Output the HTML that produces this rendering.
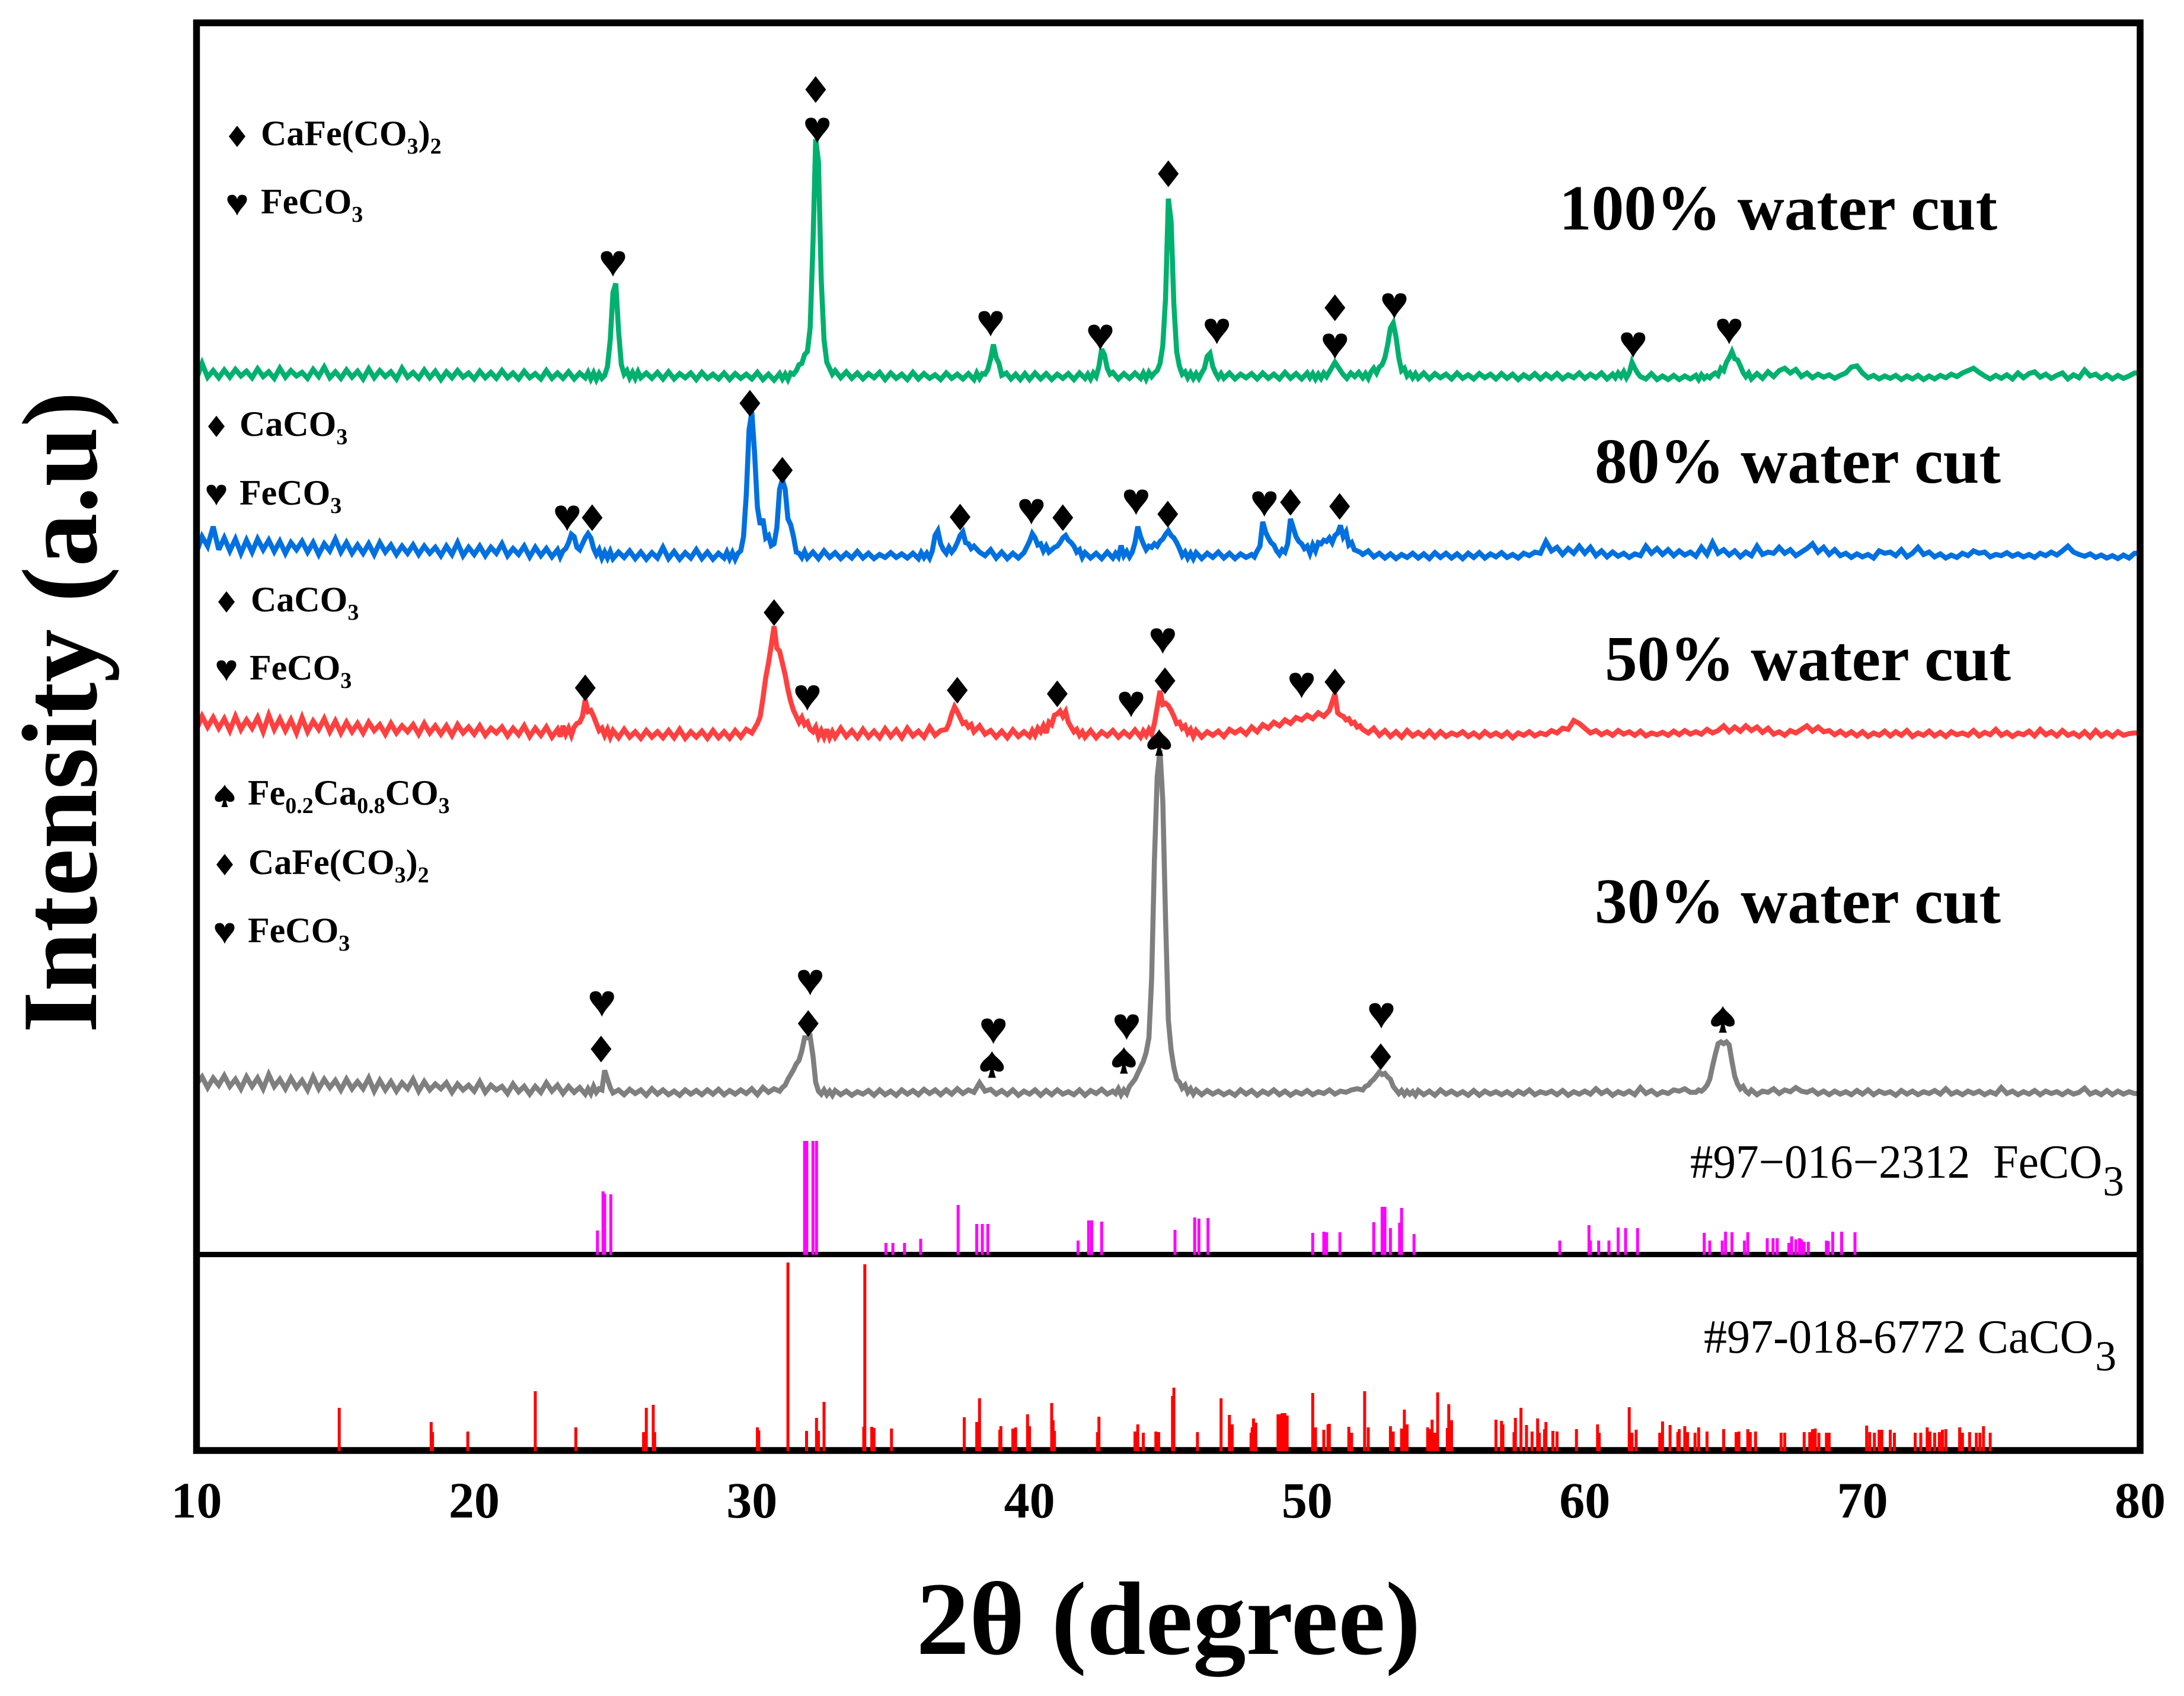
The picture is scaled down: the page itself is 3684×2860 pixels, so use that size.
<!DOCTYPE html>
<html lang="en">
<head>
<meta charset="utf-8">
<title>XRD patterns at different water cut</title>
<style>
html,body{margin:0;padding:0;background:#fff}
svg{display:block}
text{font-family:"Liberation Serif",serif;fill:#000}
</style>
</head>
<body>
<svg id="chart" xmlns="http://www.w3.org/2000/svg" width="3684" height="2860" viewBox="0 0 3684 2860">
<defs>
<path id="m-diamond" d="M0,-1 L1,0 L0,1 L-1,0Z"/>
<path id="m-heart" d="M0,1 C-.3,.3 -1,-.1 -1,-.55 C-1,-.9 -.75,-1 -.5,-1 C-.25,-1 -.05,-.85 0,-.55 C.05,-.85 .25,-1 .5,-1 C.75,-1 1,-.9 1,-.55 C1,-.1 .3,.3 0,1Z"/>
<path id="m-spade" d="M0,-1 C.2,-.55 1,-.25 1,.22 C1,.55 .55,.65 .15,.4 C.2,.7 .3,.95 .35,1 L-.35,1 C-.3,.95 -.2,.7 -.15,.4 C-.55,.65 -1,.55 -1,.22 C-1,-.25 -.2,-.55 0,-1Z"/>
</defs>
<rect width="3684" height="2860" fill="#fff"/>
<g id="series-layer"></g>
<rect x="331.5" y="38.5" width="3278.5" height="2407.5" fill="none" stroke="#000" stroke-width="11.5"/>
<rect x="326" y="2111" width="3289" height="9" fill="#000"/>
<g id="stick-layer"></g>
<g id="marker-layer"></g>
<g id="tick-layer"></g>

<text x="1971" y="2789" text-anchor="middle" font-size="176" font-weight="bold" textLength="851" lengthAdjust="spacingAndGlyphs">2θ (degree)</text>
<text transform="translate(162,1742) rotate(-90)" font-size="181" font-weight="bold" textLength="1082" lengthAdjust="spacingAndGlyphs">Intensity (a.u)</text>

<text x="2630" y="387" font-size="108" font-weight="bold" textLength="739" lengthAdjust="spacingAndGlyphs">100% water cut</text>
<text x="2690" y="814" font-size="108" font-weight="bold" textLength="685" lengthAdjust="spacingAndGlyphs">80% water cut</text>
<text x="2707" y="1147" font-size="108" font-weight="bold" textLength="685" lengthAdjust="spacingAndGlyphs">50% water cut</text>
<text x="2690" y="1556" font-size="108" font-weight="bold" textLength="685" lengthAdjust="spacingAndGlyphs">30% water cut</text>

<text x="2851" y="1986" font-size="80" xml:space="preserve" textLength="695" lengthAdjust="spacingAndGlyphs">#97−016−2312  FeCO</text>
<text x="3547" y="2016" font-size="72">3</text>
<text x="2874" y="2281" font-size="80" textLength="657" lengthAdjust="spacingAndGlyphs">#97-018-6772 CaCO</text>
<text x="3534" y="2311" font-size="72">3</text>

<g>
<use href="#m-diamond" transform="translate(400,230) scale(14,18)"/>
<text x="440" y="245" font-size="60" font-weight="bold">CaFe(CO<tspan font-size="38" dy="14">3</tspan><tspan dy="-14">)</tspan><tspan font-size="38" dy="14">2</tspan></text>
<use href="#m-heart" transform="translate(400,346) scale(16.5,17.5)"/>
<text x="440" y="360" font-size="60" font-weight="bold">FeCO<tspan font-size="38" dy="14">3</tspan></text>
</g>
<g>
<use href="#m-diamond" transform="translate(365,719) scale(14,18)"/>
<text x="404" y="735" font-size="60" font-weight="bold">CaCO<tspan font-size="38" dy="14">3</tspan></text>
<use href="#m-heart" transform="translate(365,835) scale(16.5,17.5)"/>
<text x="404" y="851" font-size="60" font-weight="bold">FeCO<tspan font-size="38" dy="14">3</tspan></text>
</g>
<g>
<use href="#m-diamond" transform="translate(382,1015) scale(14,18)"/>
<text x="423" y="1031" font-size="60" font-weight="bold">CaCO<tspan font-size="38" dy="14">3</tspan></text>
<use href="#m-heart" transform="translate(382,1131) scale(16.5,17.5)"/>
<text x="421" y="1146" font-size="60" font-weight="bold">FeCO<tspan font-size="38" dy="14">3</tspan></text>
</g>
<g>
<use href="#m-spade" transform="translate(379,1342) scale(16.5,19)"/>
<text x="418" y="1357" font-size="60" font-weight="bold">Fe<tspan font-size="38" dy="14">0.2</tspan><tspan dy="-14">Ca</tspan><tspan font-size="38" dy="14">0.8</tspan><tspan dy="-14">CO</tspan><tspan font-size="38" dy="14">3</tspan></text>
<use href="#m-diamond" transform="translate(379,1458) scale(14,18)"/>
<text x="419" y="1474" font-size="60" font-weight="bold">CaFe(CO<tspan font-size="38" dy="14">3</tspan><tspan dy="-14">)</tspan><tspan font-size="38" dy="14">2</tspan></text>
<use href="#m-heart" transform="translate(379,1574) scale(16.5,17.5)"/>
<text x="418" y="1589" font-size="60" font-weight="bold">FeCO<tspan font-size="38" dy="14">3</tspan></text>
</g>
</svg>

<script>
// Tick labels (2-theta, degrees)
const xTicks = [10,20,30,40,50,60,70,80];

// Each row below covers one degree, starting at 10 degrees; values are intensity (a.u.) above the pattern's baseline.
const counts100 = [
[4,30,7,18,6],[19,7,20,9,17],[6,21,8,16,5],[22,7,18,9,15],[5,20,8,24,6],
[16,5,19,7,17],[4,21,6,18,8],[16,4,22,7,15],[5,19,6,17,3],[16,6,18,7,14],
[4,17,6,15,5],[18,6,14,4,17],[6,13,4,18,5],[14,5,16,4,14],[6,15,4,14,3,13,5,10,25,70],
[150,165,85,28,12,18,6,15,5,16],[6,14,5,15,4],[16,4,13,6,14],[3,15,5,12,4],[14,3,13,5,12],
[4,15,3,12,2],[13,4,12,3,14,12,18,28,30,45],[50,90,230,408,370,170,70,32,22,12],[18,6,16,5,14],[4,13,6,15,3],
[14,5,12,3,15],[4,13,5,11,3],[14,5,12,4,13],[3,14,5,13,12,20,38,62,40,30],[10,14,4,12,3,13],
[3,14,4,13,3],[12,5,13,3,14],[5,12,4,14,8,25,54,45,22,12],[15,4,13,5,14],[5,14,4,15,8,14,18,30,60,140],
[308,270,130,50,25,12,16,6,14,5],[13,5,14,22,42,47,25,14,6,13],[5,14,4,12,6],[13,4,14,5,12],[4,15,5,13,4],
[14,6,13,4,12,5,14,8,16,24],[32,22,12,5,14,8,15],[6,13,5,16,22,14,24,28,40,62],[90,98,75,40,18,22,9,14,6,13],[5,14,4,13,6],
[12,4,14,5,11],[4,13,6,12,4],[13,5,12,3,11],[5,13,4,12,5],[13,4,11,6,14],
[5,12,6,14,4],[12,6,14,8,16,6,14,32,22,14],[8,4,13,3,9],[3,10,3,9,4],[10,3,11,5,9,6,11,14,10,22],
[18,32,40,50,38,36,26,15,8,14],[4,13,5,16,8],[18,22,14,20,8],[14,6,12,7,11],[5,10,14,24,26],
[14,6,10,4,9],[5,10,3,9,4],[10,3,9,4,10],[6,12,8,14,18],[22,15,9,4,10],
[5,11,4,14,6],[13,16,7,12,5],[10,14,4,11,6],[19,9,12,5,11],[4,10,5,9,14]
];
const counts80 = [
[14,40,24,57,18],[38,16,36,12,34],[14,36,18,34,15],[32,12,30,18,32],[14,30,10,28,16],
[36,14,30,12,26],[12,28,10,30,14],[26,10,24,12,26],[10,24,12,22,8],[24,10,30,8,22],
[10,24,8,22,12],[28,8,20,10,24],[6,22,8,20,6],[18,6,16,20,30,44,40,22,18,28],[38,45,38,20,10,18,4,14,4,15],
[3,14,5,16,3],[14,2,13,4,22],[3,15,2,13,4],[18,3,14,2,12],[4,14,3,13,2,12,16,40,110,220],
[250,180,90,60,70,38,42,25,28,55],[120,136,120,70,60,40,14,12,5,15],[4,14,3,16,5],[13,3,12,4,15],[4,12,3,10,5],
[13,5,11,4,12],[3,13,5,12,4,16,42,50,28,18],[12,22,14,20,30,42,48,30,28,20],[24,14,8,18,4],[14,3,12,4,13],
[32,45,38,26,28,16,24,14,18,22],[24,30,38,42,34,30,24,14,18,5],[13,4,12,3,14],[4,12,6,25,8,15,6,14,30,57],[40,28,18,24,22,28,24,32,36,44],
[50,42,38,30,20,8,14,4,12,3],[13,3,12,5,14],[4,12,3,11,5],[10,6,16,24,65,48,38,30,26,16],[10,18,14,28,70,55,40,32,28,20],
[24,12,26,16,30,28,34,32,38,30],[42,46,59,40,48,26,30,18,16,14],[10,16,6,12,4],[11,3,10,5,12],[4,11,3,13,5],
[12,4,11,3,12],[5,13,4,11,6],[13,5,10,4,12],[8,14,12,32,16],[22,10,20,12,24],
[12,22,8,16,6],[14,7,12,5,11],[8,24,12,20,10],[18,8,16,9,14],[7,22,10,30,12],
[18,9,16,6,14],[8,24,10,14,12],[22,12,18,8,14],[20,28,14,22,10],[18,8,12,5,11],
[6,10,4,16,12],[14,8,18,6,12],[22,10,14,6,11],[4,9,5,12,8],[16,12,14,6,10],
[8,13,7,11,6],[10,5,12,8,14],[9,16,24,14,10],[7,11,5,9,4],[8,3,9,4,12]
];
const counts50 = [
[18,40,22,38,20],[36,16,40,18,34],[20,38,14,42,18],[36,16,34,12,38],[14,32,18,36,14],
[32,12,30,14,28],[12,30,16,26,10],[28,12,24,14,26],[10,28,12,24,10],[24,8,26,12,22],
[10,24,8,20,12],[22,7,20,9,24],[6,20,8,22,5],[18,6,24,10,20,8,22,28,30,40],[68,48,50,40,28,16,20,8,18,5],
[16,4,18,5,14],[3,16,5,14,4],[16,4,18,3,14],[5,15,3,16,4],[14,3,16,5,18],
[12,20,28,40,70,105,130,160,192,155],[150,130,110,85,65,50,40,30,38,26],[30,18,14,22,6,16,5,18,4,14],[5,20,6,16,4],[18,5,15,4,19],
[6,17,4,20,7],[15,5,22,8,16],[18,28,44,56,48,38,28,30,22,26],[14,24,10,16,5],[15,4,17,6,14],
[6,16,8,20,14,24,12,30,26,42],[44,49,40,48,30,22,14,18,8,14],[5,16,4,14,7],[16,5,14,6,17],[5,15,8,18,10,28,55,83,60,62],
[58,50,40,28,30,20,24,12,18,6],[16,5,14,8,15],[6,18,12,18,10],[22,14,26,20,30],[24,34,28,38,34],
[42,36,46,40,50],[78,46,42,40,34,36,28,30,22,24],[18,12,20,8,16],[6,14,5,16,7],[13,6,15,5,14],
[6,12,8,14,6],[12,5,14,7,12],[6,13,4,12,8],[14,7,12,9,16],[12,20,18,33,28],
[20,12,16,9,14],[8,16,10,14,8],[15,7,12,9,13],[8,15,9,16,10],[14,10,18,12,16],
[24,14,22,15,24],[16,22,13,20,10],[14,8,16,12,18],[24,15,22,14,16],[9,15,8,14,7],
[14,6,12,8,15],[7,14,8,16,6],[12,8,15,7,13],[6,14,9,12,8],[16,7,13,9,18],
[8,13,6,12,9],[15,7,18,9,14],[7,16,8,12,6],[14,5,16,7,13],[6,14,8,11,12]
];
const counts30 = [
[22,34,16,32,20],[36,18,30,14,34],[18,32,14,38,18],[30,14,32,16,28],[12,34,14,30,16],
[28,12,30,14,26],[14,32,10,28,12],[26,10,24,14,30],[10,26,12,22,14],[24,8,22,12,20],
[10,26,8,20,12],[18,6,22,9,18],[5,18,8,24,10],[20,6,18,8,16],[5,14,6,18,8,14,12,45,30,16],
[7,12,4,13,6],[12,3,14,5,12],[4,10,3,12,5],[11,4,12,5,13],[4,11,5,12,6],
[14,4,16,8,14],[10,16,20,30,38,46,56,62,78,100],[100,102,70,25,10,5,12,4,10,3],[11,4,10,3,9],[5,11,3,12,4],
[10,3,12,5,11],[4,13,6,12,4],[12,5,14,6,12],[8,24,10,13,5],[11,4,12,3,10],
[5,12,3,11,4],[12,5,9,4,12],[3,11,6,13,5],[10,6,14,4,12,6,18,24,30,40],[50,60,75,100,200,400,540,585,500,300],
[130,80,50,30,25,15,20,8,14,5],[12,4,11,5,10],[4,9,3,12,5],[11,3,10,5,12],[4,10,3,9,5],
[11,4,9,6,12],[5,10,8,12,14],[12,18,20,26,30,36,42,38,40,34],[30,18,12,6,11,4,10,5,9,3],[11,4,10,3,12],
[5,10,4,9,3],[11,3,10,5,9],[4,9,3,10,5],[12,4,9,6,10],[4,11,3,9,5],
[10,5,14,6,11],[3,9,5,10,4],[16,6,11,4,9],[6,12,10,14,8],[8,12,10,14,20,30,52,72,90,93],
[90,93,88,60,35,22,14,18,10,6],[12,4,10,8,14],[6,12,9,16,10],[8,12,5,10,4],[10,5,9,4,11],
[5,12,4,10,6],[9,3,11,5,10],[4,9,6,11,5],[14,5,9,4,10],[6,10,4,9,5],
[16,6,10,4,9],[5,11,4,10,6],[9,4,10,5,8],[15,5,9,4,11],[4,10,5,9,6]
];

// Stacking baselines (a.u. measured down the figure) for each pattern.
const baseline100 = 643;
const baseline80 = 945;
const baseline50 = 1248;
const baseline30 = 1850;

// Reference cards: [2-theta, relative intensity]
const sticksFeCO3 = [
[24.44,36],[24.64,102],[24.7,98],[24.92,97],[31.9,187],[31.98,187],[32.2,187],[32.33,187],
[34.83,15],[35.08,15],[35.5,15],[36.08,22],[37.43,79],[38.1,47],[38.3,47],[38.5,47],
[41.75,19],[42.13,53],[42.24,53],[42.6,51],[45.24,37],[45.95,58],[46.1,56],[46.43,57],
[50.2,32],[50.6,34],[50.7,33],[51.18,33],[52.4,50],[52.7,76],[52.8,76],[53,40],[53.33,49],[53.4,74],[53.85,30],
[59.1,19],[60.15,45],[60.2,19],[60.5,19],[60.87,19],[61.2,41],[61.47,40],[61.9,40],
[64.3,32],[64.5,19],[64.95,19],[65.07,34],[65.3,33],[65.75,19],[65.87,33],
[66.57,23],[66.78,23],[66.93,23],[67.35,15],[67.45,26],[67.6,21],[67.73,23],[67.8,21],[67.9,17],[68.05,17],
[68.7,19],[68.77,18],[68.93,34],[69.25,34],[69.73,33]
];
const sticksCaCO3 = [
[15.14,73],[18.45,49],[18.5,32],[19.77,33],[22.2,101],[23.66,40],[26.1,32],[26.2,73],[26.45,78],[26.5,32],
[30.2,40],[30.25,35],[31.3,318],[31.97,34],[32.33,56],[32.4,34],[32.6,83],[34.03,41],[34.07,315],[34.32,41],[34.4,39],[35.03,38],
[37.65,57],[38.1,49],[38.2,89],[38.93,36],[38.97,42],[39.4,38],[39.5,40],[39.93,62],[40,42],[40.8,81],[40.85,52],[40.9,34],
[42.5,58],[42.45,32],[43.8,33],[43.9,45],[44.1,31],[44.55,33],[44.65,32],[45.15,93],[45.2,107],[46.05,32],[46.9,89],[47.2,61],[47.3,45],
[47.98,31],[48.02,40],[48.07,55],[48.15,48],[48.95,62],[49,62],[49.1,64],[49.2,64],[49.28,60],[50.2,98],[50.3,40],[50.6,36],[50.75,45],[50.8,46],
[51.5,41],[51.6,31],[52.07,101],[52.2,40],[53,42],[53.1,33],[53.4,38],[53.5,70],[53.6,45],[54.34,40],[54.4,37],[54.5,53],[54.6,31],[54.7,99],
[55.05,39],[55.1,79],[55.2,52],[56.8,53],[57,51],[57.05,45],[57.45,32],[57.5,56],[57.7,73],[57.9,44],[58.1,33],[58.3,55],[58.36,31],
[58.55,37],[58.6,49],[58.85,34],[59,33],[59.7,37],[60.46,45],[60.52,31],[61.6,74],[61.7,31],[61.85,36],
[62.7,31],[62.8,50],[63.07,44],[63.35,32],[63.4,37],[63.6,42],[63.7,32],[63.97,31],[64.1,40],[64.4,33],
[65,37],[65.45,32],[65.55,33],[65.87,37],[65.96,32],[66.15,33],[67.07,31],[67.2,31],[67.9,32],[68.1,32],[68.2,37],[68.3,38],[68.43,31],[68.7,31],[68.8,31],
[70.15,43],[70.26,32],[70.43,31],[70.6,36],[70.7,36],[71,36],[71.15,31],[71.9,31],[72.1,31],[72.33,40],[72.43,33],[72.6,31],[72.77,32],[72.88,36],[73,37],
[73.5,40],[73.6,31],[73.86,32],[74.1,31],[74.23,31],[74.36,42],[74.6,31]
];

// Peak annotations: [phase symbol, 2-theta, height above baseline]
const markers100 = [['heart',25,198],['diamond',32.3,492],['heart',32.36,423],['heart',38.6,97],['heart',42.55,74],['diamond',45,350],['heart',46.75,84],['diamond',51,124],['heart',51,59],['heart',53.14,127],['heart',61.74,61],['heart',65.2,84]];
const markers80 = [['heart',23.35,71],['diamond',24.25,72],['diamond',29.93,265],['diamond',31.1,152],['diamond',37.5,73],['heart',40.07,82],['diamond',41.2,72],['heart',43.84,98],['diamond',44.98,78],['heart',48.46,95],['diamond',49.4,98],['diamond',51.17,91]];
const markers50 = [['diamond',24,88],['diamond',30.8,215],['heart',32,71],['diamond',37.4,84],['diamond',41,78],['heart',43.66,60],['heart',44.8,167],['diamond',44.88,100],['heart',49.8,92],['diamond',51,98]];
const markers30 = [['heart',24.6,157],['diamond',24.57,81],['heart',32.1,193],['diamond',32.03,124],['heart',38.7,111],['spade',38.65,55],['heart',43.5,118],['spade',43.4,62],['spade',44.67,598],['heart',52.67,137],['diamond',52.65,68],['spade',64.97,131]];

const SVGNS = 'http://www.w3.org/2000/svg';
const xMinDeg = 10, xMaxDeg = 80, xLeftPx = 331.5, xRightPx = 3610;
function xScale(theta){ return xLeftPx + (theta - xMinDeg) * (xRightPx - xLeftPx) / (xMaxDeg - xMinDeg); }
function yScale(baseline, value){ return baseline - value; }

function seriesPath(rows, baseline){
  let d = '';
  rows.forEach(function(row, r){
    row.forEach(function(v, j){
      const th = xMinDeg + r + j / row.length;
      d += (d ? 'L' : 'M') + xScale(th).toFixed(1) + ',' + yScale(baseline, v).toFixed(1);
    });
  });
  const last = rows[rows.length - 1];
  d += 'L' + xScale(xMaxDeg).toFixed(1) + ',' + yScale(baseline, last[last.length - 1]).toFixed(1);
  return d;
}

const seriesLayer = document.getElementById('series-layer');
function addSeries(rows, baseline, color, name){
  const el = document.createElementNS(SVGNS, 'path');
  
  
  el.setAttribute('d', seriesPath(rows, baseline));
  el.setAttribute('fill', 'none');
  el.setAttribute('stroke', color);
  el.setAttribute('stroke-width', '8.5');
  el.setAttribute('stroke-linejoin', 'miter');
  el.setAttribute('stroke-miterlimit', '3');
  seriesLayer.appendChild(el);
}
addSeries(counts100, baseline100, '#00b06e', 'pattern-100-water-cut');
addSeries(counts80, baseline80, '#0070e0', 'pattern-80-water-cut');
addSeries(counts50, baseline50, '#ff4040', 'pattern-50-water-cut');
addSeries(counts30, baseline30, '#7f7f7f', 'pattern-30-water-cut');

const stickLayer = document.getElementById('stick-layer');
function addSticks(list, zeroY, footY, color, name){
  list.forEach(function(p){
    const el = document.createElementNS(SVGNS, 'line');
    
    
    const x = xScale(p[0]).toFixed(1);
    el.setAttribute('x1', x);
    el.setAttribute('x2', x);
    el.setAttribute('y1', footY);
    el.setAttribute('y2', yScale(zeroY, p[1]));
    el.setAttribute('stroke', color);
    el.setAttribute('stroke-width', '5');
    stickLayer.appendChild(el);
  });
}
addSticks(sticksFeCO3, 2111, 2116, '#ff00ff', 'stick-feco3');
addSticks(sticksCaCO3, 2447, 2447, '#ff0000', 'stick-caco3');

const markerSize = { diamond:[17.5,22.5], heart:[20.5,21.5], spade:[20,22.5] };
const markerLayer = document.getElementById('marker-layer');
function addMarkers(list, baseline, name){
  list.forEach(function(m){
    const el = document.createElementNS(SVGNS, 'use');
    
    
    el.setAttribute('href', '#m-' + m[0]);
    const s = markerSize[m[0]];
    el.setAttribute('transform', 'translate(' + xScale(m[1]).toFixed(1) + ',' + yScale(baseline, m[2]) + ') scale(' + s[0] + ',' + s[1] + ')');
    markerLayer.appendChild(el);
  });
}
addMarkers(markers100, baseline100, 'marker-100');
addMarkers(markers80, baseline80, 'marker-80');
addMarkers(markers50, baseline50, 'marker-50');
addMarkers(markers30, baseline30, 'marker-30');

const tickLayer = document.getElementById('tick-layer');
xTicks.forEach(function(t){
  const el = document.createElementNS(SVGNS, 'text');
  
  
  el.setAttribute('x', xScale(t).toFixed(1));
  el.setAttribute('y', '2559');
  el.setAttribute('text-anchor', 'middle');
  el.setAttribute('font-size', '86');
  el.setAttribute('font-weight', 'bold');
  el.textContent = t;
  tickLayer.appendChild(el);
});
</script>
</body>
</html>
